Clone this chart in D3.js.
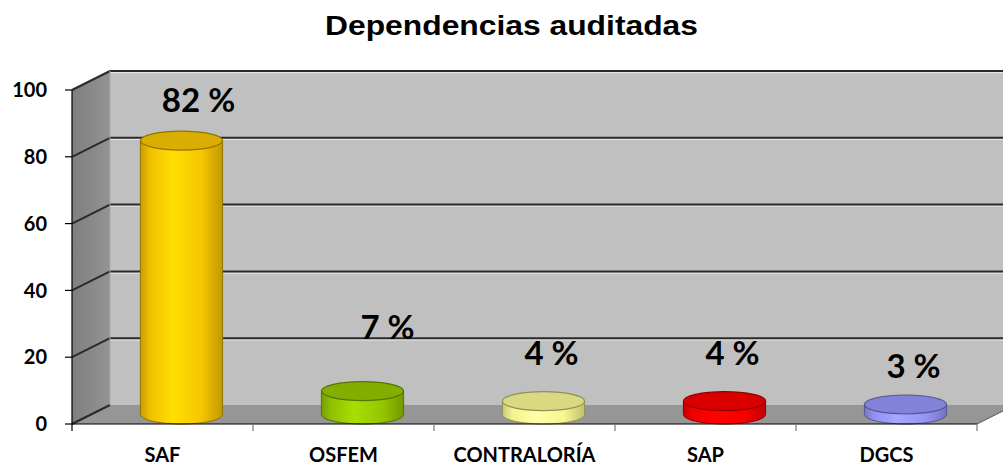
<!DOCTYPE html>
<html>
<head>
<meta charset="utf-8">
<script src="https://cdn.jsdelivr.net/npm/d3@7"></script>
<style>
  html, body { margin: 0; padding: 0; background: #ffffff; }
  svg { display: block; }
  .title { font-family: "Liberation Sans", Arial, sans-serif; font-weight: bold; font-size: 28px; fill: #000; }
  .tick-label { font-family: Lato, "Open Sans", sans-serif; font-weight: bold; font-size: 20px; fill: #000; }
  .cat-label { font-family: Lato, "Open Sans", sans-serif; font-weight: bold; font-size: 20px; fill: #000; }
  .value-label { font-family: Lato, "Open Sans", sans-serif; font-weight: bold; font-size: 33px; fill: #000; }
</style>
</head>
<body>
<svg id="chart" width="1003" height="467"></svg>
<script>
// chart data
const categories = ['SAF', 'OSFEM', 'CONTRALORÍA', 'SAP', 'DGCS'];
const values = [82, 7, 4, 4, 3];
const valueLabels = ['82 %', '7 %', '4 %', '4 %', '3 %'];
const yTicks = [0, 20, 40, 60, 80, 100];
const titleText = 'Dependencias auditadas';

// styling (kept apart from the data)
const barColors = ['#ffcc00', '#99cc00', '#ffff99', '#ff0000', '#9999ff'];
// label nudges relative to the front face of each bar (px)
const labelNudge = [[36, -38], [44, -62], [27, -46], [27, -46], [27, -36]];

const width = 1003, height = 467;
const front = { left: 72, right: 977, top: 90, bottom: 424 };
const depth = { dx: 38, dy: -19 };

const svg = d3.select('#chart');
const defs = svg.append('defs');

const x = d3.scaleBand()
  .domain(categories)
  .range([front.left, front.right])
  .paddingInner(0)
  .paddingOuter(0);

const y = d3.scaleLinear()
  .domain([0, 100])
  .range([front.bottom, front.top]);

const backY = v => y(v) + depth.dy;
const midY = v => y(v) + depth.dy / 2;

// back wall
svg.append('rect')
  .attr('x', front.left + depth.dx)
  .attr('y', backY(100))
  .attr('width', width - (front.left + depth.dx) + 20)
  .attr('height', backY(0) - backY(100))
  .attr('fill', '#c0c0c0');

// side wall
const sideGrad = defs.append('linearGradient').attr('id', 'sideGrad')
  .attr('x1', 0).attr('x2', 1).attr('y1', 0).attr('y2', 0);
sideGrad.append('stop').attr('offset', 0).attr('stop-color', '#7f7f7f');
sideGrad.append('stop').attr('offset', 1).attr('stop-color', '#939393');

svg.append('path')
  .attr('d', d3.line()([
    [front.left, y(100)], [front.left + depth.dx, backY(100)],
    [front.left + depth.dx, backY(0)], [front.left, y(0)]
  ]) + 'Z')
  .attr('fill', 'url(#sideGrad)');

// floor
svg.append('path')
  .attr('d', d3.line()([
    [front.left, y(0)], [front.right, y(0)],
    [front.right + depth.dx, backY(0)], [front.left + depth.dx, backY(0)]
  ]) + 'Z')
  .attr('fill', '#969696');

// gridlines on back wall and side wall
const grid = svg.append('g');
yTicks.forEach(v => {
  if (v > 0) {
    grid.append('line')
      .attr('x1', front.left + depth.dx).attr('x2', width)
      .attr('y1', backY(v) + 1.5).attr('y2', backY(v) + 1.5)
      .attr('stroke', '#e4e4e4').attr('stroke-width', 1.5);
    grid.append('line')
      .attr('x1', front.left + depth.dx).attr('x2', width)
      .attr('y1', backY(v)).attr('y2', backY(v))
      .attr('stroke', '#2a2a2a').attr('stroke-width', 2);
  }
  grid.append('line')
    .attr('x1', front.left).attr('y1', y(v))
    .attr('x2', front.left + depth.dx).attr('y2', backY(v))
    .attr('stroke', '#2a2a2a').attr('stroke-width', 2);
});

// corner edge between side wall and back wall
svg.append('line')
  .attr('x1', front.left + depth.dx).attr('x2', front.left + depth.dx)
  .attr('y1', backY(100)).attr('y2', backY(0))
  .attr('stroke', '#a8a8a8').attr('stroke-width', 1);

// right slanted floor edge
svg.append('line')
  .attr('x1', front.right).attr('y1', y(0))
  .attr('x2', front.right + depth.dx).attr('y2', backY(0))
  .attr('stroke', '#555').attr('stroke-width', 1);

// cylinders
const rx = x.bandwidth() * 0.227;
const ry = 9.5;

const bars = svg.append('g');
categories.forEach((cat, i) => {
  const c = d3.color(barColors[i]);
  const g = defs.append('linearGradient').attr('id', 'cyl' + i)
    .attr('x1', 0).attr('x2', 1).attr('y1', 0).attr('y2', 0);
  g.append('stop').attr('offset', 0).attr('stop-color', c.darker(0.7));
  g.append('stop').attr('offset', 0.12).attr('stop-color', c.darker(0.15));
  g.append('stop').attr('offset', 0.4).attr('stop-color', c.brighter(0.25));
  g.append('stop').attr('offset', 0.75).attr('stop-color', c.darker(0.1));
  g.append('stop').attr('offset', 1).attr('stop-color', c.darker(0.8));

  const cx = x(cat) + x.bandwidth() / 2 + depth.dx / 2;
  const yTop = midY(values[i]);
  const yBase = midY(0);
  const edge = c.darker(1.6);

  bars.append('path')
    .attr('d', `M${cx - rx},${yTop} L${cx - rx},${yBase} A${rx},${ry} 0 0 0 ${cx + rx},${yBase} L${cx + rx},${yTop} Z`)
    .attr('fill', `url(#cyl${i})`)
    .attr('stroke', edge).attr('stroke-width', 1);

  bars.append('ellipse')
    .attr('cx', cx).attr('cy', yTop)
    .attr('rx', rx).attr('ry', ry)
    .attr('fill', c.darker(0.45))
    .attr('stroke', edge).attr('stroke-width', 1.2);
});

// front axes
const axis = svg.append('g').attr('stroke', '#000').attr('stroke-width', 1.2);
axis.append('line')
  .attr('x1', front.left).attr('x2', front.right)
  .attr('y1', y(0)).attr('y2', y(0));
axis.append('line')
  .attr('x1', front.left).attr('x2', front.left)
  .attr('y1', y(100)).attr('y2', y(0) + 7);
yTicks.forEach(v => {
  axis.append('line')
    .attr('x1', front.left - 7).attr('x2', front.left)
    .attr('y1', y(v)).attr('y2', y(v));
});
categories.forEach(cat => {
  axis.append('line')
    .attr('x1', x(cat) + x.bandwidth()).attr('x2', x(cat) + x.bandwidth())
    .attr('y1', y(0)).attr('y2', y(0) + 7)
    .attr('stroke', '#777');
});

// y tick labels
svg.append('g').selectAll('text')
  .data(yTicks)
  .join('text')
  .attr('class', 'tick-label')
  .attr('x', 47)
  .attr('y', d => y(d))
  .attr('dy', '0.36em')
  .attr('text-anchor', 'end')
  .text(d => d);

// category labels
svg.append('g').selectAll('text')
  .data(categories)
  .join('text')
  .attr('class', 'cat-label')
  .attr('x', d => x(d) + x.bandwidth() / 2)
  .attr('y', 462)
  .attr('text-anchor', 'middle')
  .text(d => d);

// value labels
svg.append('g').selectAll('text')
  .data(categories)
  .join('text')
  .attr('class', 'value-label')
  .attr('x', (d, i) => x(d) + x.bandwidth() / 2 + labelNudge[i][0])
  .attr('y', (d, i) => y(values[i]) + labelNudge[i][1])
  .attr('text-anchor', 'middle')
  .text((d, i) => valueLabels[i]);

// title
svg.append('text')
  .attr('class', 'title')
  .attr('x', 325)
  .attr('y', 35)
  .attr('textLength', 373)
  .attr('lengthAdjust', 'spacingAndGlyphs')
  .text(titleText);
</script>
</body>
</html>
